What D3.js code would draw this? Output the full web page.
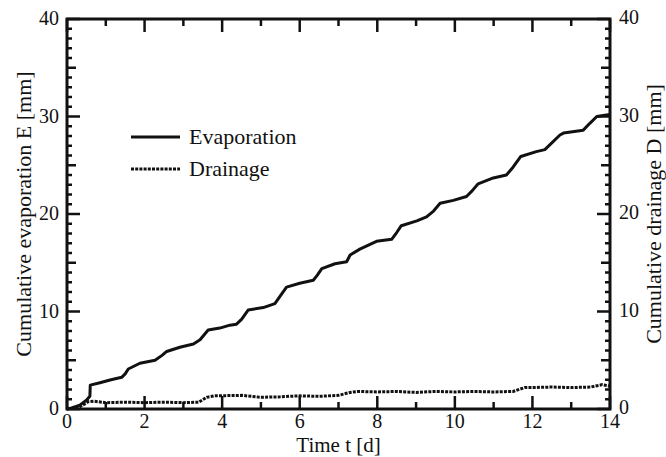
<!DOCTYPE html>
<html>
<head>
<meta charset="utf-8">
<script src="https://cdn.jsdelivr.net/npm/d3@7"></script>
<style>
  body { margin: 0; background: #fff; }
</style>
</head>
<body>
<div id="chart"></div>
<script>

// evaporation curve (day, mm)
var evapDays = [0, 0.12, 0.33, 0.5, 0.59, 0.6, 0.85, 1.11, 1.41, 1.5, 1.58, 1.88, 2.27, 2.45, 2.57, 2.91, 3.26, 3.43, 3.64, 3.94, 4.2, 4.37, 4.5, 4.67, 5.06, 5.36, 5.5, 5.66, 6.0, 6.35, 6.45, 6.57, 6.91, 7.21, 7.3, 7.55, 7.98, 8.37, 8.5, 8.62, 9.02, 9.27, 9.45, 9.62, 9.96, 10.3, 10.45, 10.6, 10.99, 11.33, 11.5, 11.7, 12.1, 12.32, 12.5, 12.71, 12.8, 13.31, 13.48, 13.66, 13.91, 14.0];
var evapValues = [0, 0.1, 0.4, 0.9, 1.3, 2.45, 2.7, 2.97, 3.25, 3.6, 4.1, 4.69, 5.0, 5.5, 5.9, 6.33, 6.67, 7.1, 8.1, 8.3, 8.6, 8.7, 9.2, 10.15, 10.4, 10.8, 11.6, 12.5, 12.9, 13.2, 13.7, 14.4, 14.9, 15.1, 15.8, 16.4, 17.2, 17.4, 18.1, 18.8, 19.3, 19.7, 20.3, 21.1, 21.4, 21.8, 22.4, 23.1, 23.7, 24.0, 24.8, 25.9, 26.4, 26.6, 27.3, 28.1, 28.3, 28.6, 29.3, 30.0, 30.15, 30.2];

// drainage curve (day, mm)
var drainDays = [0, 0.3, 0.55, 0.7, 1.0, 1.5, 2.0, 2.5, 3.0, 3.4, 3.6, 3.8, 4.5, 5.0, 5.5, 6.0, 6.5, 7.0, 7.3, 7.5, 8.0, 8.5, 9.0, 9.5, 10.0, 10.5, 11.0, 11.5, 11.8, 12.0, 12.5, 13.0, 13.5, 13.8, 14.0];
var drainValues = [0, 0.15, 0.75, 0.8, 0.65, 0.7, 0.65, 0.7, 0.65, 0.7, 1.2, 1.35, 1.4, 1.2, 1.25, 1.35, 1.3, 1.4, 1.7, 1.8, 1.75, 1.8, 1.7, 1.8, 1.75, 1.8, 1.75, 1.8, 2.2, 2.2, 2.25, 2.2, 2.25, 2.5, 2.35];

var xTickLabels = [0, 2, 4, 6, 8, 10, 12, 14];
var yTickLabels = [0, 10, 20, 30, 40];
var legendNames = ["Evaporation", "Drainage"];

var font = "Liberation Serif";

var width = 666, height = 457;
var margin = { top: 19, right: 56, bottom: 48, left: 67 };
var plotW = width - margin.left - margin.right,
    plotH = height - margin.top - margin.bottom;

var svg = d3.select("#chart").append("svg")
  .attr("width", width)
  .attr("height", height);

var g = svg.append("g")
  .attr("transform", "translate(" + margin.left + "," + margin.top + ")");

var x = d3.scaleLinear().domain([0, 14]).range([0, plotW]);
var y = d3.scaleLinear().domain([0, 40]).range([plotH, 0]);

// curves
var evapData = evapDays.map(function(d, i) { return [d, evapValues[i]]; });
var drainData = drainDays.map(function(d, i) { return [d, drainValues[i]]; });

var line = d3.line()
  .x(function(d) { return x(d[0]); })
  .y(function(d) { return y(d[1]); });

g.append("path")
  .datum(drainData)
  .attr("fill", "none")
  .attr("stroke", "#111")
  .attr("stroke-width", 3)
  .attr("stroke-dasharray", "3,1.2")
  .attr("d", line);

g.append("path")
  .datum(evapData)
  .attr("fill", "none")
  .attr("stroke", "#111")
  .attr("stroke-width", 3)
  .attr("stroke-linejoin", "round")
  .attr("d", line);

// frame
g.append("rect")
  .attr("width", plotW)
  .attr("height", plotH)
  .attr("fill", "none")
  .attr("stroke", "#111")
  .attr("stroke-width", 3);

// ticks, all pointing inward
var xTicks = d3.range(0, 15, 1);
var yTicks = d3.range(0, 41, 1);

function xLen(d) { return d % 2 == 0 ? 13 : 7; }
function yLen(d) { return d % 10 == 0 ? 13 : (d % 5 == 0 ? 9 : 5); }

var tickG = g.append("g").attr("stroke", "#111").attr("stroke-width", 2.5);

tickG.selectAll(".xb").data(xTicks).enter().append("line")
  .attr("x1", function(d) { return x(d); }).attr("x2", function(d) { return x(d); })
  .attr("y1", plotH).attr("y2", function(d) { return plotH - xLen(d); });
tickG.selectAll(".xt").data(xTicks).enter().append("line")
  .attr("x1", function(d) { return x(d); }).attr("x2", function(d) { return x(d); })
  .attr("y1", 0).attr("y2", function(d) { return xLen(d); });
tickG.selectAll(".yl").data(yTicks).enter().append("line")
  .attr("y1", function(d) { return y(d); }).attr("y2", function(d) { return y(d); })
  .attr("x1", 0).attr("x2", function(d) { return yLen(d); });
tickG.selectAll(".yr").data(yTicks).enter().append("line")
  .attr("y1", function(d) { return y(d); }).attr("y2", function(d) { return y(d); })
  .attr("x1", plotW).attr("x2", function(d) { return plotW - yLen(d); });

// tick labels
g.selectAll(".xl").data(xTickLabels).enter().append("text")
  .attr("x", function(d) { return x(d); })
  .attr("y", plotH + 19)
  .attr("text-anchor", "middle")
  .attr("font-family", font)
  .attr("font-size", 20)
  .attr("fill", "#111")
  .text(function(d) { return d; });

g.selectAll(".ylab").data(yTickLabels).enter().append("text")
  .attr("x", -8)
  .attr("y", function(d) { return y(d) + 6; })
  .attr("text-anchor", "end")
  .attr("font-family", font)
  .attr("font-size", 20)
  .attr("fill", "#111")
  .text(function(d) { return d; });

g.selectAll(".yrlab").data(yTickLabels).enter().append("text")
  .attr("x", plotW + 9)
  .attr("y", function(d) { return y(d) + 5; })
  .attr("text-anchor", "start")
  .attr("font-family", font)
  .attr("font-size", 20)
  .attr("fill", "#111")
  .text(function(d) { return d; });

// axis titles
g.append("text")
  .attr("x", plotW / 2)
  .attr("y", plotH + 43)
  .attr("text-anchor", "middle")
  .attr("font-family", font)
  .attr("font-size", 21)
  .attr("fill", "#111")
  .text("Time t [d]");

g.append("text")
  .attr("transform", "translate(" + (-36) + "," + (plotH / 2) + ") rotate(-90)")
  .attr("text-anchor", "middle")
  .attr("font-family", font)
  .attr("font-size", 22)
  .attr("fill", "#111")
  .text("Cumulative evaporation E [mm]");

g.append("text")
  .attr("transform", "translate(" + (plotW + 51) + "," + (plotH / 2) + ") rotate(-90)")
  .attr("text-anchor", "middle")
  .attr("font-family", font)
  .attr("font-size", 22)
  .attr("fill", "#111")
  .text("Cumulative drainage D [mm]");

// legend
var legend = g.append("g")
  .selectAll("g")
  .data(legendNames)
  .enter()
  .append("g")
  .attr("transform", function(d, i) { return "translate(64," + (118 + i * 32) + ")"; });

legend.append("line")
  .attr("x1", 0).attr("x2", 49)
  .attr("stroke", "#111")
  .attr("stroke-width", 3)
  .attr("stroke-dasharray", function(d, i) { return i == 0 ? null : "3,1.2"; });

legend.append("text")
  .attr("x", 58)
  .attr("y", 7)
  .attr("font-family", font)
  .attr("font-size", 22)
  .attr("fill", "#111")
  .text(function(d) { return d; });

</script>
</body>
</html>
